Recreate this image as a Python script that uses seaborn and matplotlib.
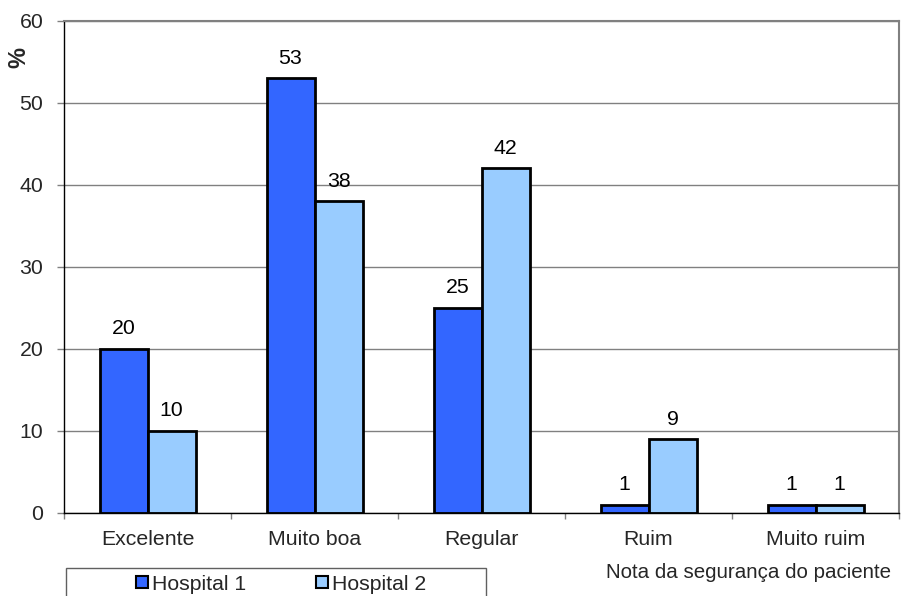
import matplotlib
matplotlib.use("Agg")
import matplotlib.pyplot as plt
from matplotlib.patches import Rectangle
import numpy as np
import pandas as pd
import seaborn as sns

categories = ["Excelente", "Muito boa", "Regular", "Ruim", "Muito ruim"]
hospital_1 = [20, 53, 25, 1, 1]
hospital_2 = [10, 38, 42, 9, 1]
series_names = ["Hospital 1", "Hospital 2"]
colors = ["#3366FF", "#99CCFF"]
y_ticks = [0, 10, 20, 30, 40, 50, 60]

df = pd.DataFrame({
    "categoria": categories * 2,
    "valor": hospital_1 + hospital_2,
    "hospital": [series_names[0]] * len(categories) + [series_names[1]] * len(categories),
})

sns.set_theme(style="white")
plt.rcParams["font.family"] = ["Liberation Sans", "DejaVu Sans"]
FS = 15.3

fig = plt.figure(figsize=(9.03, 5.96), dpi=100)
ax = fig.add_axes([0.0709, 0.1393, 0.9247, 0.8263])

sns.barplot(data=df, x="categoria", y="valor", hue="hospital", order=categories,
            hue_order=series_names, palette=colors, width=0.575, saturation=1,
            edgecolor="black", linewidth=2.0, legend=False, ax=ax, errorbar=None)

for cont in ax.containers:
    ax.bar_label(cont, padding=7.5, fontsize=FS, color="black")

ax.set_ylim(0, 60)
ax.set_xlim(-0.5, len(categories) - 0.5)
ax.set_yticks(y_ticks)
ax.yaxis.grid(True, color="#808080", linewidth=1.0)
ax.set_axisbelow(True)
ax.set_xlabel("")
ax.set_ylabel("")

ax.tick_params(axis="y", which="major", length=5, width=1, color="#808080",
               labelsize=FS, pad=10, left=True)
ax.tick_params(axis="x", which="major", length=0, labelsize=FS, pad=12)
ax.set_xticks(np.arange(-0.5, len(categories) + 0.5, 1), minor=True)
ax.tick_params(axis="x", which="minor", length=4.5, width=1, color="#808080", bottom=True)

for side in ["left", "bottom"]:
    ax.spines[side].set_color("black")
    ax.spines[side].set_linewidth(1.0)
for side in ["top", "right"]:
    ax.spines[side].set_color("#808080")
    ax.spines[side].set_linewidth(1.5)

fig.text(19 / 903, 1 - 58 / 596, "%", rotation=90, fontsize=17, fontweight="bold",
         ha="center", va="center")
fig.text(891 / 903, 1 - 572 / 596, "Nota da segurança do paciente", fontsize=14.8,
         ha="right", va="center")

# legend frame running off the bottom edge
fig.patches.append(Rectangle((66 / 903, -0.05), (486 - 66) / 903, 0.05 + 1 - 568 / 596,
                             transform=fig.transFigure, fill=False,
                             edgecolor="#606060", linewidth=1.0))
handles = [Rectangle((0, 0), 1, 1, facecolor=c, edgecolor="black", linewidth=1.5)
           for c in colors]
fig.legend(handles, series_names, loc="center", bbox_to_anchor=(281 / 903, 1 - 584 / 596),
           ncol=2, frameon=False, fontsize=FS, handlelength=0.55, handleheight=0.55,
           handletextpad=0.2, columnspacing=3.3, borderpad=0)

fig.savefig("out.png", dpi=100)
